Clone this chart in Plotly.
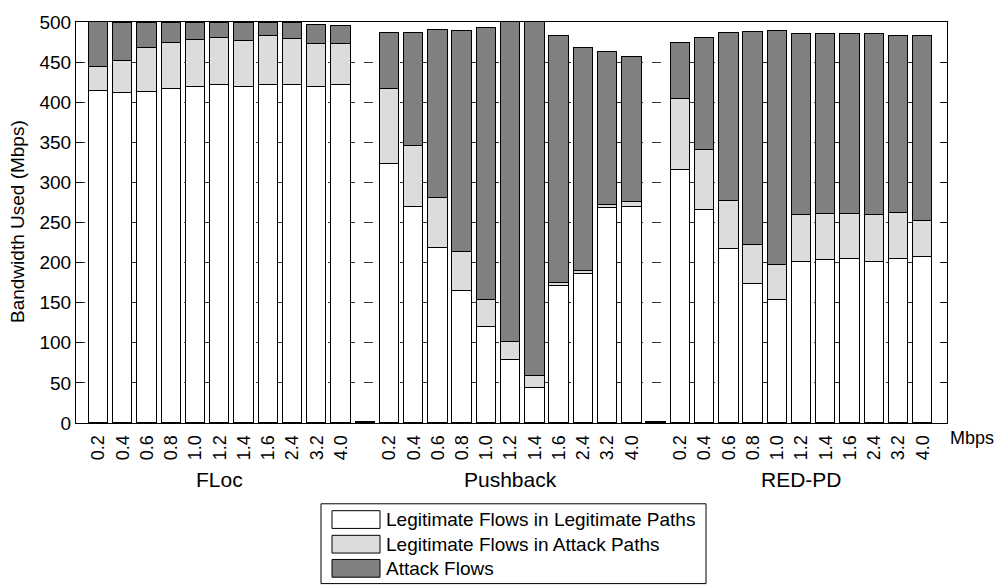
import plotly.graph_objects as go

rates = ["0.2", "0.4", "0.6", "0.8", "1.0", "1.2", "1.4", "1.6", "2.4", "3.2", "4.0"]
schemes = ["FLoc", "Pushback", "RED-PD"]

# Legitimate flows in legitimate paths (Mbps)
floc_legit_legit = [414, 411, 413, 416, 419, 421, 419, 422, 422, 419, 422]
push_legit_legit = [323, 269, 218, 165, 120, 78, 44, 171, 186, 268, 269]
redpd_legit_legit = [315, 266, 217, 173, 153, 201, 203, 204, 201, 204, 207]

# Legitimate flows in attack paths (Mbps)
floc_legit_attack = [30, 41, 54, 58, 58, 59, 57, 60, 57, 54, 51]
push_legit_attack = [93, 76, 62, 48, 33, 23, 14, 3, 3, 4, 7]
redpd_legit_attack = [89, 74, 60, 49, 44, 58, 58, 57, 58, 58, 45]

# Attack flows (Mbps)
floc_attack = [56, 47, 32, 25, 22, 19, 23, 17, 20, 23, 22]
push_attack = [70, 141, 210, 276, 339, 399, 442, 309, 278, 190, 180]
redpd_attack = [70, 140, 209, 266, 292, 226, 224, 224, 226, 221, 230]

gap_value = [1]  # empty separator slot between groups

series_names = ["Legitimate Flows in Legitimate Paths",
                "Legitimate Flows in Attack Paths",
                "Attack Flows"]
colors = ["#ffffff", "#dcdcdc", "#808080"]
y_title = "Bandwidth Used (Mbps)"

# Build slot layout: group, gap, group, gap, group
x_pos, tick_text = [], []
s1, s2, s3 = [], [], []
groups = [
    (floc_legit_legit, floc_legit_attack, floc_attack),
    (push_legit_legit, push_legit_attack, push_attack),
    (redpd_legit_legit, redpd_legit_attack, redpd_attack),
]
group_centers = []
pos = 0
for gi, (a, b, c) in enumerate(groups):
    start = pos
    for i, r in enumerate(rates):
        x_pos.append(pos); tick_text.append(r)
        s1.append(a[i]); s2.append(b[i]); s3.append(c[i])
        pos += 1
    group_centers.append((start + pos - 1) / 2)
    if gi < len(groups) - 1:
        x_pos.append(pos); tick_text.append("")
        s1.append(gap_value[0]); s2.append(None); s3.append(None)
        pos += 1

fig = go.Figure()
for name, vals, col in zip(series_names, [s1, s2, s3], colors):
    fig.add_trace(go.Bar(
        x=x_pos, y=vals, name=name, width=0.8,
        marker=dict(color=col, line=dict(color="#000000", width=1)),
        showlegend=False,
    ))

W, H = 1000, 587
ML, MR, MT, MB = 76, 53, 16, 164
PW, PH = W - ML - MR, H - MT - MB

def px(xp):
    return (xp - ML) / PW

def py(yp):
    return (H - MB - yp) / PH

font = "Liberation Sans, Arial, sans-serif"

fig.update_layout(
    width=W, height=H,
    margin=dict(l=ML, r=MR, t=MT, b=MB),
    paper_bgcolor="white", plot_bgcolor="white",
    barmode="stack", bargap=0,
    font=dict(family=font, size=18, color="#000000"),
    showlegend=False,
)
fig.update_xaxes(
    range=[-0.93, 35], tickmode="array", tickvals=x_pos, ticktext=tick_text,
    tickangle=-90, showgrid=False, showline=True, linecolor="#000000", linewidth=1,
    mirror=True, ticks="", tickfont=dict(size=18, family=font), zeroline=False,
    ticklabelstandoff=4,
)
fig.update_yaxes(
    range=[0, 500], dtick=50, showgrid=True, gridcolor="#333333", griddash="dash",
    gridwidth=1, showline=True, linecolor="#000000", linewidth=1, mirror="ticks",
    ticks="inside", ticklen=6, tickcolor="#000000", zeroline=False,
    tickfont=dict(size=19, family=font),
)

annotations = [dict(x=px(17), xref="paper", y=py(219), yref="paper", text=y_title,
                    textangle=-90, showarrow=False, font=dict(size=19, family=font),
                    xanchor="center", yanchor="middle")]
for name, cx in zip(schemes, group_centers):
    annotations.append(dict(x=cx, xref="x", y=py(480), yref="paper", text=name,
                            showarrow=False, font=dict(size=21, family=font),
                            xanchor="center", yanchor="middle"))
annotations.append(dict(x=px(948), xref="paper", y=py(438), yref="paper", text="Mbps",
                        showarrow=False, font=dict(size=18, family=font),
                        xanchor="left", yanchor="middle"))

shapes = []
# legend box
shapes.append(dict(type="rect", xref="paper", yref="paper",
                   x0=px(321), x1=px(706), y0=py(505), y1=py(586),
                   line=dict(color="#000000", width=1), fillcolor="white", layer="above"))
row_y = [521, 546, 570.5]
for name, col, ry in zip(series_names, colors, row_y):
    shapes.append(dict(type="rect", xref="paper", yref="paper",
                       x0=px(332), x1=px(380), y0=py(ry - 9), y1=py(ry + 9),
                       line=dict(color="#000000", width=1), fillcolor=col, layer="above"))
    annotations.append(dict(x=px(384), xref="paper", y=py(ry), yref="paper", text=name,
                            showarrow=False, font=dict(size=19, family=font),
                            xanchor="left", yanchor="middle"))

fig.update_layout(annotations=annotations, shapes=shapes)
fig.write_html("out.html")
